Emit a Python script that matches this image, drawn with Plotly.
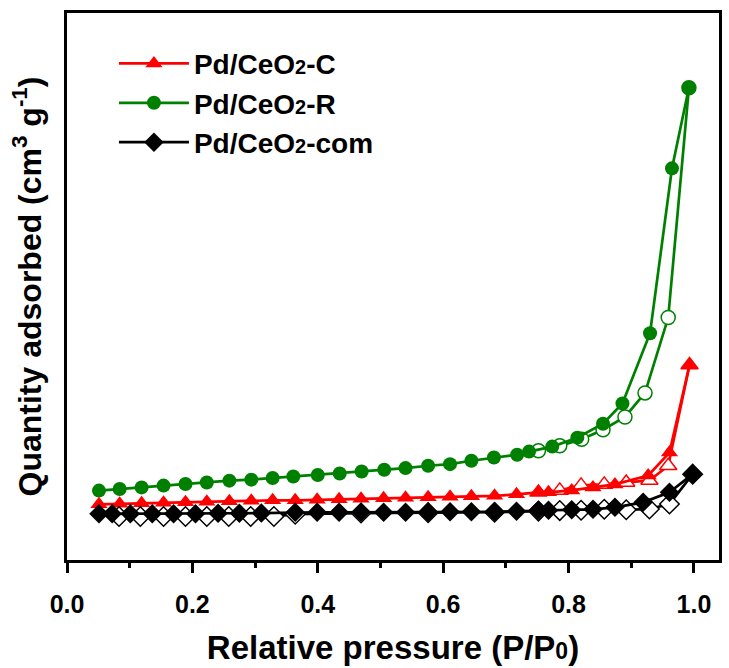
import plotly.graph_objects as go

# ---- data (y in arbitrary cm3/g units) ----
c_ads_x = [0.051, 0.084, 0.119, 0.154, 0.189, 0.223, 0.259, 0.294, 0.328, 0.364, 0.399, 0.434, 0.469, 0.505,
           0.540, 0.576, 0.611, 0.645, 0.682, 0.717, 0.752, 0.768, 0.805, 0.839, 0.874, 0.927, 0.961, 0.993]
c_ads_y = [28.0, 28.25, 28.5, 28.75, 29.0, 29.25, 29.5, 29.75, 30.0, 30.0, 30.25, 30.5, 30.75, 31.0,
           31.25, 31.5, 31.75, 32.0, 32.25, 33.0, 34.0, 34.0, 35.0, 36.5, 38.0, 42.5, 54.0, 98.0]
c_des_x = [0.993, 0.959, 0.929, 0.892, 0.857, 0.820, 0.786, 0.752]
c_des_y = [98.0, 47.4, 40.0, 39.0, 38.0, 37.5, 35.0, 34.0]

r_ads_x = [0.051, 0.084, 0.119, 0.154, 0.189, 0.223, 0.259, 0.294, 0.328, 0.361, 0.400, 0.435, 0.470, 0.506,
           0.540, 0.576, 0.611, 0.645, 0.681, 0.718, 0.737, 0.774, 0.814, 0.855, 0.886, 0.930, 0.965, 0.992]
r_ads_y = [34.9, 35.7, 36.5, 37.4, 38.2, 39.0, 39.9, 40.4, 41.2, 42.0, 42.7, 43.5, 44.5, 45.4,
           46.2, 47.4, 48.2, 49.9, 51.5, 52.9, 54.5, 57.0, 61.5, 68.5, 78.7, 114.0, 196.9, 237.4]
r_des_x = [0.992, 0.959, 0.922, 0.890, 0.855, 0.821, 0.786, 0.752]
r_des_y = [237.4, 121.9, 84.0, 71.9, 65.5, 60.7, 57.4, 54.9]

m_ads_x = [0.051, 0.072, 0.101, 0.136, 0.170, 0.205, 0.241, 0.275, 0.310, 0.364, 0.399, 0.434, 0.469, 0.505,
           0.540, 0.576, 0.611, 0.645, 0.682, 0.717, 0.752, 0.768, 0.805, 0.839, 0.874, 0.919, 0.961, 0.998]
m_ads_y = [23.2, 23.2, 23.2, 23.2, 23.2, 23.2, 23.5, 23.5, 23.6, 24.0, 24.0, 24.0, 24.0, 24.0,
           24.0, 24.0, 24.25, 24.25, 24.25, 24.5, 25.0, 25.0, 25.25, 25.5, 26.5, 29.0, 34.0, 43.15]
m_des_x = [0.998, 0.961, 0.929, 0.892, 0.857, 0.820, 0.786, 0.752, 0.682, 0.576, 0.469, 0.364,
           0.330, 0.293, 0.258, 0.223, 0.189, 0.154, 0.117, 0.083]
m_des_y = [43.15, 28.15, 25.65, 25.25, 25.5, 25.0, 24.85, 24.6, 24.0, 23.8, 23.6, 23.0,
           21.9, 21.9, 21.9, 21.85, 21.85, 21.85, 21.85, 21.85]

names = ["Pd/CeO<span style=\"font-size:20px\">2</span>-C",
         "Pd/CeO<span style=\"font-size:20px\">2</span>-R",
         "Pd/CeO<span style=\"font-size:20px\">2</span>-com"]

RED, GREEN, BLACK = "#ff0000", "#008000", "#000000"
LW = 2.7

fig = go.Figure()

def add_pair(ax, ay, dx, dy, color, symbol, size, name, rank):
    fig.add_trace(go.Scatter(
        x=dx, y=dy, mode="lines+markers", showlegend=False,
        line=dict(color=color, width=LW),
        marker=dict(symbol=symbol, size=size, color="white", line=dict(color=color, width=1.5)),
    ))
    fig.add_trace(go.Scatter(
        x=ax, y=ay, mode="lines+markers", name=name, legendrank=rank,
        line=dict(color=color, width=LW),
        marker=dict(symbol=symbol, size=size, color=color, line=dict(color=color, width=0)),
    ))

add_pair(r_ads_x, r_ads_y, r_des_x, r_des_y, GREEN, "circle", 14, names[1], 2)
add_pair(c_ads_x, c_ads_y, c_des_x, c_des_y, RED, "triangle-up", 15, names[0], 1)
add_pair(m_ads_x, m_ads_y, m_des_x, m_des_y, BLACK, "diamond", 15, names[2], 3)

fig.update_layout(
    width=729, height=668,
    margin=dict(l=67, r=7, t=13, b=105),
    paper_bgcolor="white", plot_bgcolor="white",
    font=dict(family="Liberation Sans, Arial, sans-serif", color="black"),
    legend=dict(
        x=0.072, y=0.953, xanchor="left", yanchor="top",
        bgcolor="rgba(0,0,0,0)", borderwidth=0,
        font=dict(family="Liberation Sans, Arial, sans-serif", size=28, color="black", weight="bold"),
        itemwidth=70,
    ),
    xaxis=dict(
        range=[0, 1.04], dtick=0.2, tickformat=".1f",
        showgrid=False, zeroline=False,
        showline=True, linecolor="black", linewidth=2.5, mirror=True,
        ticks="outside", ticklen=10, tickwidth=2.5, tickcolor="black",
        ticklabelstandoff=10,
        minor=dict(dtick=0.1, ticks="outside", ticklen=5, tickwidth=2.5, tickcolor="black"),
        tickfont=dict(family="Liberation Sans Narrow, Arial Narrow, Liberation Sans, sans-serif",
                      size=25, color="black", weight="bold"),
        title=dict(text="Relative pressure (P/P<span style=\"font-size:23px\">0</span>)",
                   font=dict(size=33, weight="bold"), standoff=20),
    ),
    yaxis=dict(
        range=[0, 275],
        showgrid=False, zeroline=False, showticklabels=False, ticks="",
        showline=True, linecolor="black", linewidth=2.5, mirror=True,
        title=dict(text="Quantity adsorbed (cm<sup>3</sup> g<sup>-1</sup>)",
                   font=dict(size=32, weight="bold"), standoff=14),
    ),
)

fig.write_html("out.html", config={"displayModeBar": False},
               post_script="document.body.style.margin='0px';")
